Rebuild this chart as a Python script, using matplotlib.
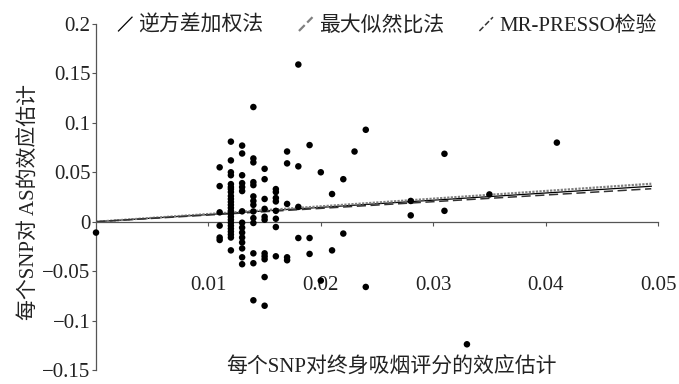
"""
MR scatter: per-SNP effect on lifetime smoking index vs. effect on AS,
with IVW / ML / MR-PRESSO fitted slopes.
"""

import matplotlib
matplotlib.use('Agg')
import matplotlib.pyplot as plt
from matplotlib.lines import Line2D
from matplotlib.legend_handler import HandlerBase

plt.rcParams['font.family'] = ['Liberation Serif', 'Noto Sans CJK SC']
plt.rcParams['axes.unicode_minus'] = True

# SNP effects (exposure beta, outcome beta)
snp_x = [0.000,
         0.011, 0.011, 0.011, 0.011, 0.011, 0.011,
         0.012, 0.012, 0.012, 0.012, 0.012, 0.012, 0.012, 0.012,
         0.012, 0.012, 0.012, 0.012, 0.012, 0.012, 0.012, 0.012,
         0.012, 0.012, 0.012, 0.012, 0.012, 0.012, 0.012, 0.012,
         0.013, 0.013, 0.013, 0.013, 0.013, 0.013, 0.013, 0.013,
         0.013, 0.013, 0.013, 0.013, 0.013, 0.013, 0.013,
         0.014, 0.014, 0.014, 0.014, 0.014, 0.014, 0.014, 0.014,
         0.014, 0.014, 0.014, 0.014, 0.014, 0.014,
         0.015, 0.015, 0.015, 0.015, 0.015, 0.015, 0.015, 0.015,
         0.015, 0.015, 0.015,
         0.016, 0.016, 0.016, 0.016, 0.016, 0.016, 0.016, 0.016,
         0.017, 0.017, 0.017, 0.017, 0.017,
         0.018, 0.018, 0.018, 0.018,
         0.019, 0.019, 0.019,
         0.020, 0.020,
         0.021, 0.021,
         0.022, 0.022,
         0.023,
         0.024, 0.024,
         0.028, 0.028,
         0.031, 0.031,
         0.033,
         0.035,
         0.041]
snp_y = [-0.011,
         0.055, 0.036, 0.0095, -0.004, -0.016, -0.0185,
         0.081, 0.062, 0.050, 0.047, 0.038, 0.035, 0.033, 0.030,
         0.026, 0.023, 0.020, 0.017, 0.014, 0.011, 0.008, 0.005,
         0.002, -0.001, -0.004, -0.007, -0.010, -0.013, -0.016, -0.029,
         0.077, 0.069, 0.047, 0.039, 0.035, 0.031, 0.0105, -0.001,
         -0.006, -0.011, -0.016, -0.021, -0.027, -0.036, -0.043,
         0.116, 0.064, 0.060, 0.040, 0.037, 0.0256, 0.021, 0.017,
         0.0104, 0.0037, -0.0013, -0.032, -0.042, -0.0795,
         0.0535, 0.043, 0.023, 0.013, 0.005, 0.002, -0.032, -0.035,
         -0.038, -0.056, -0.085,
         0.033, 0.030, 0.024, 0.0205, 0.011, 0.003, -0.0054, -0.035,
         0.071, 0.059, 0.018, -0.036, -0.039,
         0.159, 0.056, 0.015, -0.0165,
         0.0775, -0.0165, -0.0326,
         0.050, -0.0596,
         0.028, -0.029,
         0.043, -0.012,
         0.071,
         0.093, -0.066,
         0.021, 0.0064,
         0.0687, 0.011,
         -0.124,
         0.0276,
         0.080]

# fitted causal estimates (slopes through the origin)
methods = ['逆方差加权法', '最大似然比法', 'MR-PRESSO检验']
slopes = [0.726, 0.777, 0.675]
line_x = [0.0, 0.0494]

x_ticks = [0.01, 0.02, 0.03, 0.04, 0.05]
x_ticklabels = ['0.01', '0.02', '0.03', '0.04', '0.05']
y_ticks = [0.2, 0.15, 0.1, 0.05, 0, -0.05, -0.1, -0.15]
y_ticklabels = ['0.2', '0.15', '0.1', '0.05', '0', '\u22120.05', '\u22120.1', '\u22120.15']

STYLES = [
    dict(color='black', linestyle='-', linewidth=0.9),
    dict(color='#808080', linestyle=(0, (1, 0.6)), linewidth=1.6),
    dict(color='#333333', linestyle=(0, (6, 3)), linewidth=1.1),
]


class SlashHandler(HandlerBase):
    """legend key drawn as a short slanted stroke"""
    def create_artists(self, legend, orig_handle, xdescent, ydescent,
                       width, height, fontsize, trans):
        ln = Line2D([-xdescent, width - xdescent],
                    [-ydescent - 0.1 * height, height - ydescent],
                    color=orig_handle.get_color(),
                    linestyle=orig_handle.get_linestyle(),
                    linewidth=orig_handle.get_linewidth(),
                    transform=trans)
        return [ln]


fig = plt.figure(figsize=(6.79, 3.84), dpi=100)
ax = fig.add_axes([0.1414, 0.0365, 0.8277, 0.901])

ax.scatter(snp_x, snp_y, s=22, color='black', zorder=3, clip_on=False,
           edgecolors='none')

handles = []
for name, b, st in zip(methods, slopes, STYLES):
    ln, = ax.plot(line_x, [b * v for v in line_x], label=name, zorder=2, **st)
    handles.append(ln)

ax.set_xlim(0, 0.05)
ax.set_ylim(-0.15, 0.2)

for side in ['top', 'right']:
    ax.spines[side].set_visible(False)
ax.spines['bottom'].set_position(('data', 0))
for side in ['left', 'bottom']:
    ax.spines[side].set_color('#555555')
    ax.spines[side].set_linewidth(0.9)

ax.set_xticks(x_ticks)
ax.set_xticklabels(x_ticklabels)
ax.set_yticks(y_ticks)
ax.set_yticklabels(y_ticklabels)
ax.tick_params(axis='x', direction='out', length=3, width=0.8, color='#555555',
               pad=36, labelsize=15, labelcolor='#222222')
ax.tick_params(axis='y', direction='out', length=3, width=0.8, color='#555555',
               pad=1, labelsize=15, labelcolor='#222222')

ax.set_xlabel('每个SNP对终身吸烟评分的效应估计', fontsize=15, color='#222222')
ax.xaxis.set_label_coords(0.525, 0.035)
ax.set_ylabel('每个SNP对 AS的效应估计', fontsize=15, color='#222222')
ax.yaxis.set_label_coords(-0.100, 0.486)

ax.legend(handles=handles, handler_map={Line2D: SlashHandler()},
          loc='center left', bbox_to_anchor=(0.040, 0.995), ncol=3,
          frameon=False, fontsize=15, borderpad=0, borderaxespad=0,
          handlelength=0.65, handleheight=0.55, handletextpad=0.3,
          columnspacing=1.7, labelcolor='#222222')

plt.savefig('out.png', dpi=100)
plt.close()
